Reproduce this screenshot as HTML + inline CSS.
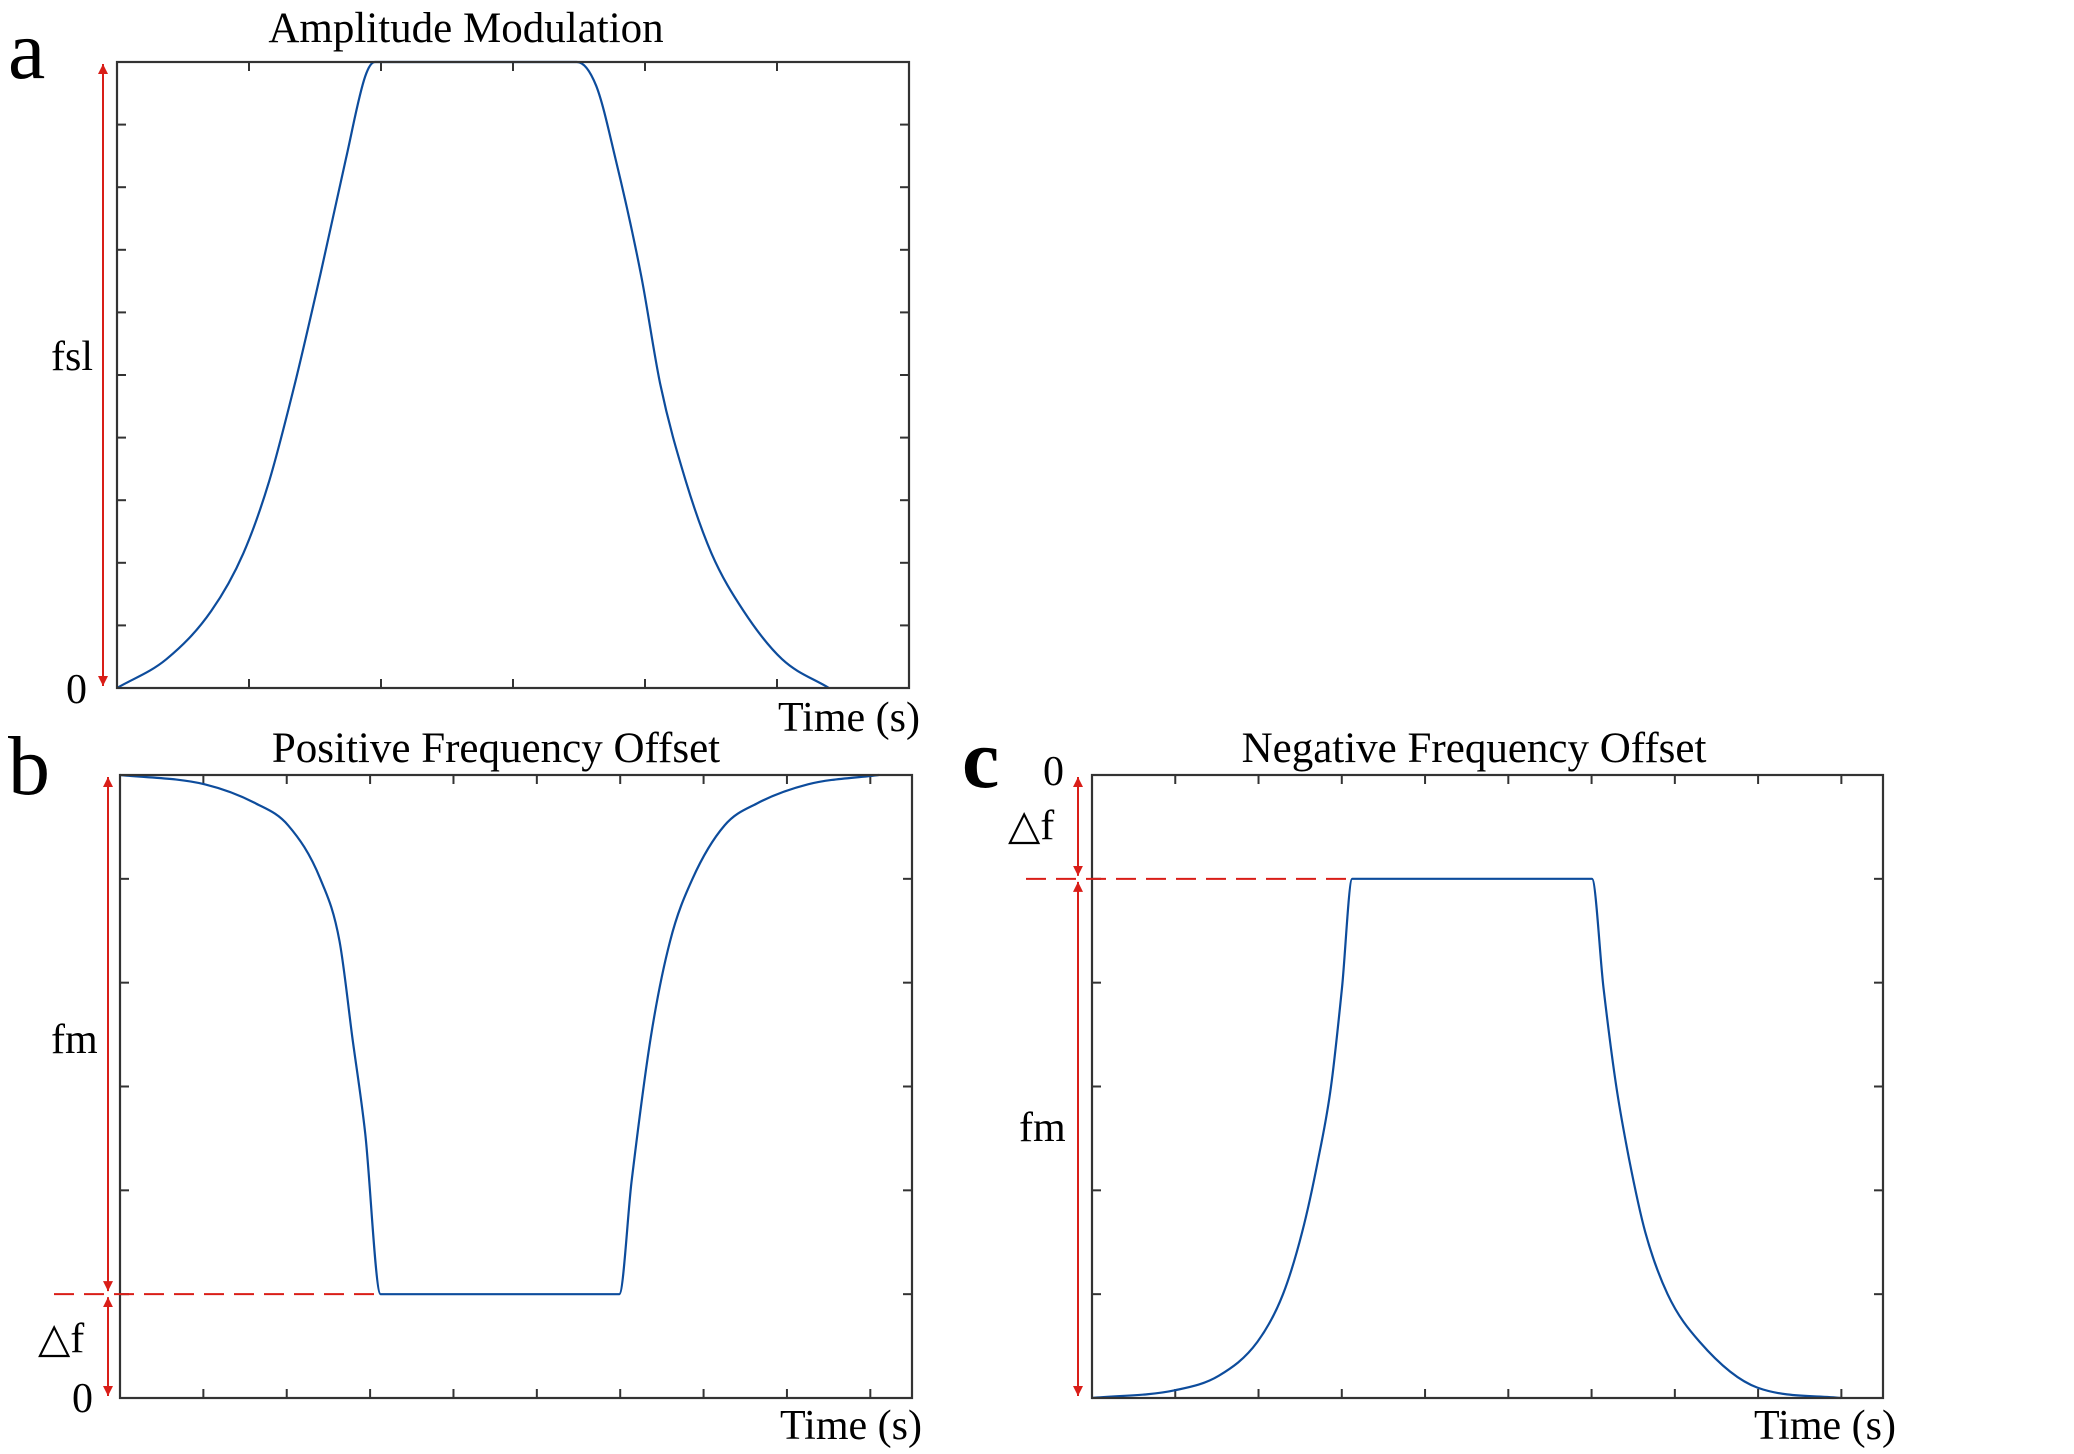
<!DOCTYPE html>
<html><head><meta charset="utf-8"><style>
html,body{margin:0;padding:0;background:#fff;}
svg{display:block;}
text{font-family:"Liberation Serif",serif;fill:#000;}
</style></head><body>
<svg id="fig" width="2074" height="1454" viewBox="0 0 2074 1454" xmlns="http://www.w3.org/2000/svg">
<defs>
<marker id="ah" viewBox="0 0 10 10" refX="10" refY="5" markerWidth="10" markerHeight="16" markerUnits="userSpaceOnUse" orient="auto-start-reverse"><path d="M0,0 L10,5 L0,10 z" fill="#d91e18"/></marker>
</defs>
</svg>
<script>
// Panel a: amplitude modulation (x in tick units 0..6, y 0..1)
const aTimes=[0,0.374,0.714,0.957,1.152,1.346,1.54,1.735,1.88,1.953,3.484,3.63,3.776,3.97,4.116,4.31,4.504,4.747,5.039,5.394];
const aValues=[0,0.046,0.123,0.215,0.33,0.485,0.66,0.846,0.977,1,1,0.962,0.846,0.66,0.485,0.33,0.215,0.123,0.046,0];
// Panel b: positive frequency offset (x 0..9.5, y 0..6)
const bTimes=[0,1.016,1.632,2.017,2.402,2.633,2.787,2.941,3.126,5.989,6.136,6.367,6.598,6.867,7.252,7.637,8.253,9.1];
const bValues=[6,5.91,5.725,5.515,5.0,4.4,3.475,2.55,1,1,2.08,3.475,4.4,5.0,5.515,5.725,5.91,6];
// Panel c: negative frequency offset (x 0..9.5, y 0..6)
const cTimes=[0,1.0,1.524,1.986,2.294,2.525,2.717,2.871,3.002,3.125,6.005,6.143,6.297,6.451,6.644,6.913,7.298,7.991,8.992];
const cValues=[0,0.075,0.215,0.54,1.0,1.6,2.3,3.0,3.95,5,5,3.95,3.0,2.3,1.6,1.0,0.54,0.1,0];
const xTicksA=[1,2,3,4,5];
const yTicksA=[1,2,3,4,5,6,7,8,9];
const xTicksBC=[1,2,3,4,5,6,7,8,9];
const yTicksBC=[1,2,3,4,5];

const NS="http://www.w3.org/2000/svg";
const svg=document.getElementById('fig');
function mk(tag,attrs,parent){const e=document.createElementNS(NS,tag);for(const k in attrs)e.setAttribute(k,attrs[k]);(parent||svg).appendChild(e);return e;}
function txt(s,x,y,size,anchor,parent,weight){const t=mk('text',{x:x,y:y,'font-size':size,'text-anchor':anchor||'start'},parent);if(weight)t.setAttribute('font-weight',weight);t.textContent=s;return t;}

// monotone cubic (Fritsch-Carlson) path
function monoPath(xs,ys){
  const n=xs.length;const d=[],m=new Array(n).fill(0);
  for(let i=0;i<n-1;i++)d.push((ys[i+1]-ys[i])/(xs[i+1]-xs[i]));
  m[0]=d[0];m[n-1]=d[n-2];
  for(let i=1;i<n-1;i++){m[i]=(d[i-1]*d[i]<=0)?0:(d[i-1]+d[i])/2;}
  for(let i=0;i<n-1;i++){
    if(d[i]===0){m[i]=0;m[i+1]=0;continue;}
    const a=m[i]/d[i],b=m[i+1]/d[i],s=a*a+b*b;
    if(s>9){const t=3/Math.sqrt(s);m[i]=t*a*d[i];m[i+1]=t*b*d[i];}
  }
  let p='M'+xs[0].toFixed(1)+','+ys[0].toFixed(1);
  for(let i=0;i<n-1;i++){const h=(xs[i+1]-xs[i])/3;
    p+=' C'+(xs[i]+h).toFixed(1)+','+(ys[i]+m[i]*h).toFixed(1)+' '+(xs[i+1]-h).toFixed(1)+','+(ys[i+1]-m[i+1]*h).toFixed(1)+' '+xs[i+1].toFixed(1)+','+ys[i+1].toFixed(1);}
  return p;
}

function panel(name,box,xmax,ymax,xt,yt,times,vals){
  const g=mk('g',{});
  
  
  const sx=v=>box.x0+(v/xmax)*(box.x1-box.x0);
  const sy=v=>box.y1-(v/ymax)*(box.y1-box.y0);
  const L=9;
  xt.forEach(t=>{const x=sx(t);
    const tk=mk('line',{x1:x,y1:box.y1,x2:x,y2:box.y1-L,stroke:'#333','stroke-width':2},g);
    
    
    mk('line',{x1:x,y1:box.y0,x2:x,y2:box.y0+L,stroke:'#333','stroke-width':2},g);});
  yt.forEach(t=>{const y=sy(t);
    const tk=mk('line',{x1:box.x0,y1:y,x2:box.x0+L,y2:y,stroke:'#333','stroke-width':2},g);
    
    
    mk('line',{x1:box.x1,y1:y,x2:box.x1-L,y2:y,stroke:'#333','stroke-width':2},g);});
  const pl=mk('path',{d:monoPath(times.map(sx),vals.map(sy)),fill:'none',stroke:'#0d4c9c','stroke-width':2.2,'stroke-linejoin':'round'},g);
  
  
  const r=mk('rect',{x:box.x0,y:box.y0,width:box.x1-box.x0,height:box.y1-box.y0,fill:'none',stroke:'#333','stroke-width':2.2},g);
  
  
  return {g,sx,sy};
}
function arrow(x,y1,y2,name){
  const a=mk('line',{x1:x,y1:y1,x2:x,y2:y2,stroke:'#d91e18','stroke-width':2,'marker-start':'url(#ah)','marker-end':'url(#ah)'});
  
  
}
function dash(x1,x2,y,name){
  const d=mk('line',{x1:x1,y1:y,x2:x2,y2:y,stroke:'#d91e18','stroke-width':2,'stroke-dasharray':'20 10'});
  
  
}

// Panel a
const A=panel('panel-a',{x0:117,x1:909,y0:62,y1:688},6,1,xTicksA,[],aTimes,aValues);
yTicksA.forEach(t=>{const y=A.sy(t/10);
  mk('line',{x1:117,y1:y,x2:126,y2:y,stroke:'#333','stroke-width':2},A.g);
  mk('line',{x1:909,y1:y,x2:900,y2:y,stroke:'#333','stroke-width':2},A.g);});
arrow(103,64,686,'fsl-arrow');
let t;
t=txt('a',8,78,84);
t=txt('Amplitude Modulation',466,42,43,'middle');
t=txt('fsl',51,370,42);
t=txt('0',66,703,42);
t=txt('Time (s)',778,731,42);

// Panel b
const B=panel('panel-b',{x0:120,x1:912,y0:775,y1:1398},9.5,6,xTicksBC,yTicksBC,bTimes,bValues);
const bFlat=B.sy(1);
dash(54,B.sx(bTimes[8]),bFlat,'delta-f-dashed-b');
arrow(108,777,bFlat-3,'fm-arrow-b');
arrow(108,bFlat+3,1396,'delta-f-arrow-b');
t=txt('b',8,794,84);
t=txt('Positive Frequency Offset',496,762,43,'middle');
t=txt('fm',51,1053,42);
t=txt('△f',38,1352,42);
t=txt('0',72,1412,42);
t=txt('Time (s)',780,1439,42);

// Panel c
const C=panel('panel-c',{x0:1092,x1:1883,y0:775,y1:1398},9.5,6,xTicksBC,yTicksBC,cTimes,cValues);
const cFlat=C.sy(5);
dash(1026,C.sx(cTimes[9]),cFlat,'delta-f-dashed-c');
arrow(1078,777,cFlat-3,'delta-f-arrow-c');
arrow(1078,cFlat+3,1396,'fm-arrow-c');
t=txt('c',962,787,84,'start',null,'bold');
t=txt('0',1043,785,42);
t=txt('Negative Frequency Offset',1474,762,43,'middle');
t=txt('△f',1008,839,42);
t=txt('fm',1019,1141,42);
t=txt('Time (s)',1754,1439,42);
</script>
</body></html>
